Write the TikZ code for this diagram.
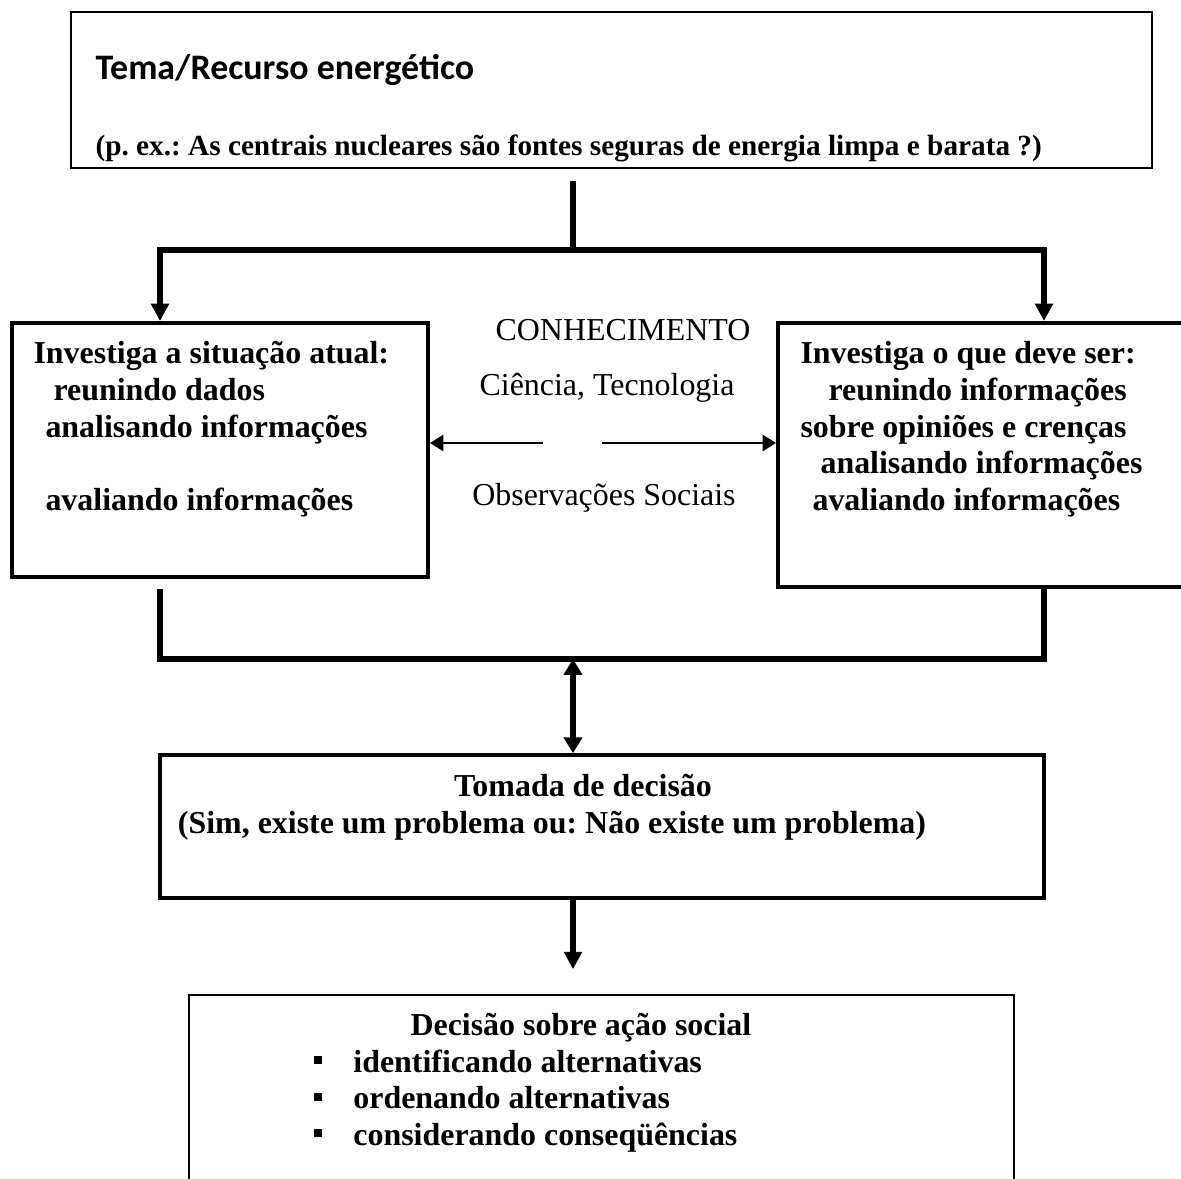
\documentclass[tikz,border=0pt]{standalone}
\usepackage{fontspec}
\setmainfont{Liberation Serif}
\newfontfamily\calibri{Carlito}
\usetikzlibrary{arrows.meta,fit}
\frenchspacing

\tikzset{
  box/.style={draw, line width=1.5pt, inner sep=0pt},
  txt/.style={anchor=base west, inner sep=0pt, font=\fontsize{12}{14}\selectfont\bfseries},
  mid/.style={anchor=base, inner sep=0pt, font=\fontsize{12}{14}\selectfont},
  link/.style={line width=1.9pt},
  arr/.style={link, -{Triangle[length=6.5pt,width=6.5pt]}},
  darr/.style={link, {Triangle[length=6pt,width=6.8pt]}-{Triangle[length=6pt,width=6.8pt]}},
  harr/.style={line width=1.1pt, -{Triangle[length=5pt,width=6pt]}}
}

\begin{document}
\begin{tikzpicture}[x=0.3759pt, y=-0.3759pt]
\useasboundingbox (0,0) rectangle (1181,1179);
\clip (0,0) rectangle (1181,1179);

% boxes
\node[box, line width=0.8pt, fit={(71,12) (1152,168)}] (top) {};
\node[box, fit={(12,323) (428,577)}] (lbox) {};
\node[box, fit={(778,323) (1260,587)}] (rbox) {};
\node[box, line width=1.3pt, fit={(160,755) (1044,898)}] (dec) {};
\node[box, line width=0.6pt, fit={(189,995) (1014,1260)}] (act) {};

% texts
\node[anchor=base west, inner sep=0pt, font=\calibri\bfseries\fontsize{13.5}{16}\selectfont] (tema) at (95,80) {Tema/Recurso energético};
\node[txt, font=\fontsize{11}{13}\selectfont\bfseries] (pex) at (95,155) {(p. ex.: As centrais nucleares são fontes seguras de energia limpa e barata ?)};

\node[txt] (l1) at (33,363) {Investiga a situação atual:};
\node[txt] (l2) at (53,400) {reunindo dados};
\node[txt] (l3) at (45,437) {analisando informações};
\node[txt] (l4) at (45,510) {avaliando informações};

\node[txt] (r1) at (800,363) {Investiga o que deve ser:};
\node[txt] (r2) at (828,400) {reunindo informações};
\node[txt] (r3) at (800,437) {sobre opiniões e crenças};
\node[txt] (r4) at (820,473) {analisando informações};
\node[txt] (r5) at (812,510) {avaliando informações};

\node[mid] (con) at (623,340) {CONHECIMENTO};
\node[mid] (cit) at (607,395) {Ciência, Tecnologia};
\node[mid] (obs) at (604,505) {Observações Sociais};

\node[mid, font=\fontsize{12}{14}\selectfont\bfseries] (tom) at (583,796) {Tomada de decisão};
\node[mid, font=\fontsize{12}{14}\selectfont\bfseries] (sim) at (552,833) {(Sim, existe um problema ou: Não existe um problema)};

\node[txt] (dsa) at (410,1035) {Decisão sobre ação social};
\foreach \i/\t in {0/identificando alternativas, 1/ordenando alternativas, 2/considerando conseqüências}
  \node[txt] (alt\i) at (313,1072+36.5*\i) {\makebox[15pt][l]{\rule[3pt]{3pt}{3pt}}\t};

% connectors
\coordinate (tmid) at (573,250);
\coordinate (lcorner) at (160,659);
\coordinate (rcorner) at (1044,659);
\coordinate (bmid) at (573,659);
\coordinate (kl) at (543,443);
\coordinate (kr) at (602,443);

\draw[link, shorten <=4.5pt] (top.south -| tmid) -- (tmid);
\draw[arr] (tmid) -| (lcorner |- lbox.north);
\draw[arr] (tmid) -| (rcorner |- rbox.north);
\draw[harr] (kl) -- (kl -| lbox.east);
\draw[harr] (kr) -- (kr -| rbox.west);
\draw[link] (lcorner |- rbox.south) -- (lcorner) -- (rcorner) -- (rcorner |- rbox.south);
\draw[darr] (bmid) -- (dec.north -| bmid);
\draw[arr, shorten >=9.4pt] (dec.south -| bmid) -- (act.north -| bmid);
\end{tikzpicture}
\end{document}
